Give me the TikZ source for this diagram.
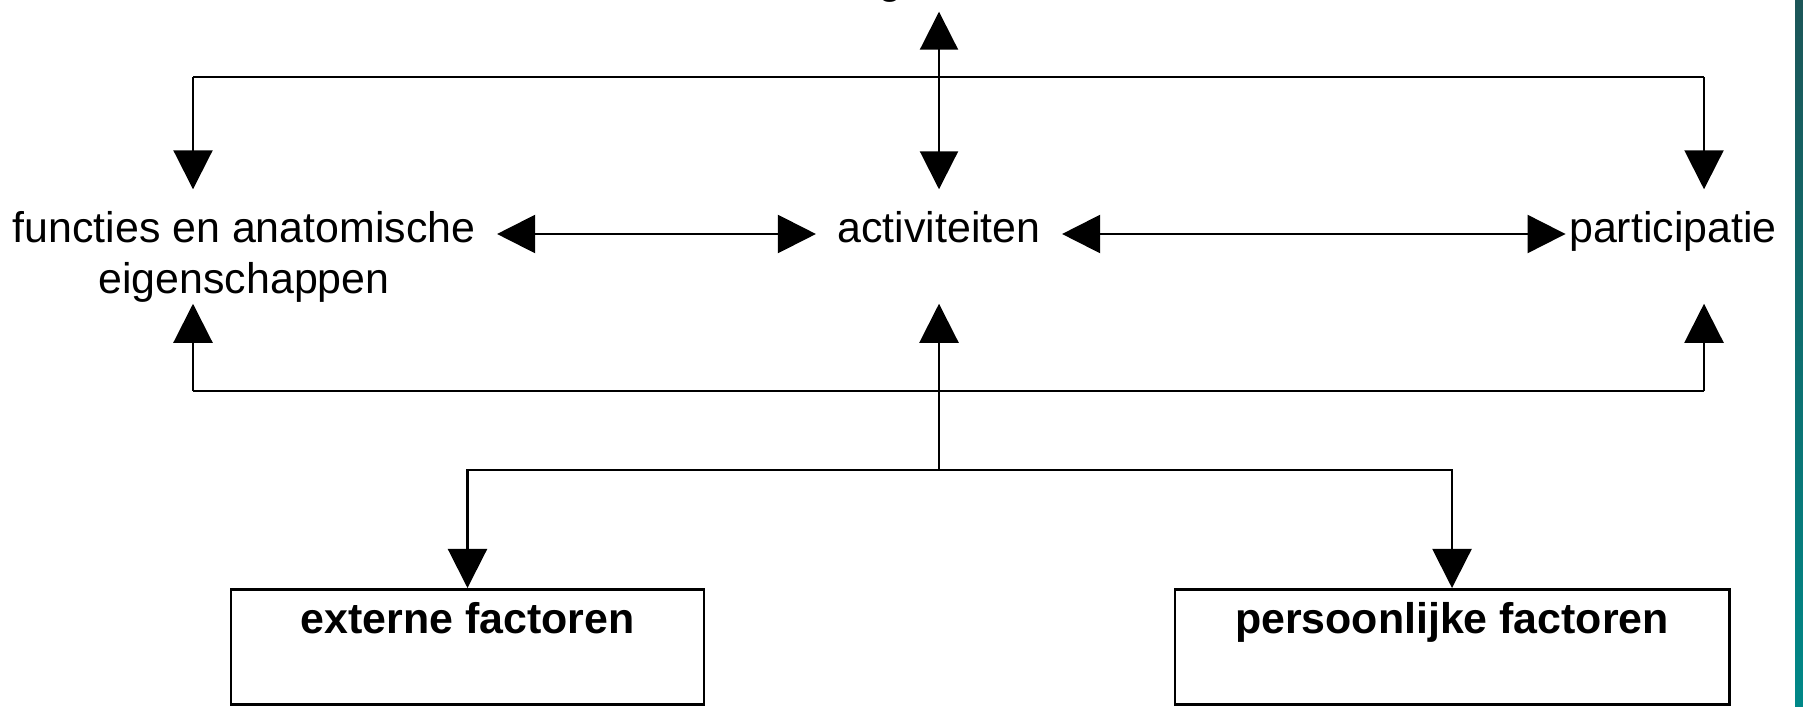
\documentclass[tikz,border=0pt]{standalone}
\usepackage{fontspec}
\setmainfont{Liberation Sans}
\usetikzlibrary{arrows.meta, positioning}
\definecolor{bartop}{RGB}{28,86,88}
\definecolor{barbot}{RGB}{0,136,136}

\begin{document}
\begin{tikzpicture}[x=0.01cm, y=-0.01cm, font=\fontsize{12.2}{14.5}\selectfont,
  lbl/.style={inner xsep=0.21cm, inner ysep=0pt, text height=0.52cm, text depth=0.36cm},
  factorbox/.style={draw, line width=0.75pt, inner sep=0pt, anchor=north,
        font=\fontsize{12.2}{14.5}\selectfont\bfseries,
        text height=0.44cm, text depth=0.71cm},
  link/.style={line width=0.6pt},
  tip/.style={link, -{Triangle[length=0.39cm, width=0.39cm]}},
  both/.style={link, {Triangle[length=0.38cm, width=0.38cm]}-{Triangle[length=0.38cm, width=0.38cm]}}]
  \useasboundingbox (0,0) rectangle (1803,706);
  \fill[white] (0,0) rectangle (1803,706);
  \shade[top color=bartop, bottom color=barbot] (1795,0) rectangle (1803,706);

  % last line of the top label falls just above the page
  \node[anchor=base, align=center, inner sep=0pt, text depth=0.17cm] (health) at (894,-6)
    {gezondheidstoestand\\aandoeningen, ziekten};
  \node[lbl, align=center, text height=1.3cm, text depth=0.12cm] (func) at (244,234)
    {functies en anatomische\\eigenschappen};
  \node[lbl] (act) at (939,234) {activiteiten};
  \node[lbl, inner xsep=0.03cm] (part) at (1673,234) {participatie};
  \node[factorbox, minimum width=4.73cm] (ext) at (467.5,588) {externe factoren};
  \node[factorbox, minimum width=5.54cm] (pers) at (1452,588) {persoonlijke factoren};

  \coordinate (tl) at (193,77);
  \coordinate (tr) at (1704,77);
  \coordinate (bl) at (193,391);
  \coordinate (br) at (1704,391);
  \coordinate (fork) at (939,470);

  \draw[link] (tl) -- (tr);
  \draw[tip] (tl) -- (tl |- act.north);
  \draw[tip] (tr) -- (tr |- part.north);
  \draw[both] (act.north) -- (act.north |- health.south);
  \draw[both] (func.east) -- (act.west);
  \draw[both] (act.east) -- (part.west);

  \draw[link] (bl) -- (br);
  \draw[tip, shorten >=0.25cm] (bl) -- (bl |- act.south);
  \draw[tip, shorten >=0.25cm] (br) -- (br |- part.south);
  \draw[tip, shorten >=0.25cm] (fork) -- (act.south);
  \draw[tip] (fork) -| (ext.north);
  \draw[tip] (fork) -| (pers.north);
\end{tikzpicture}
\end{document}
